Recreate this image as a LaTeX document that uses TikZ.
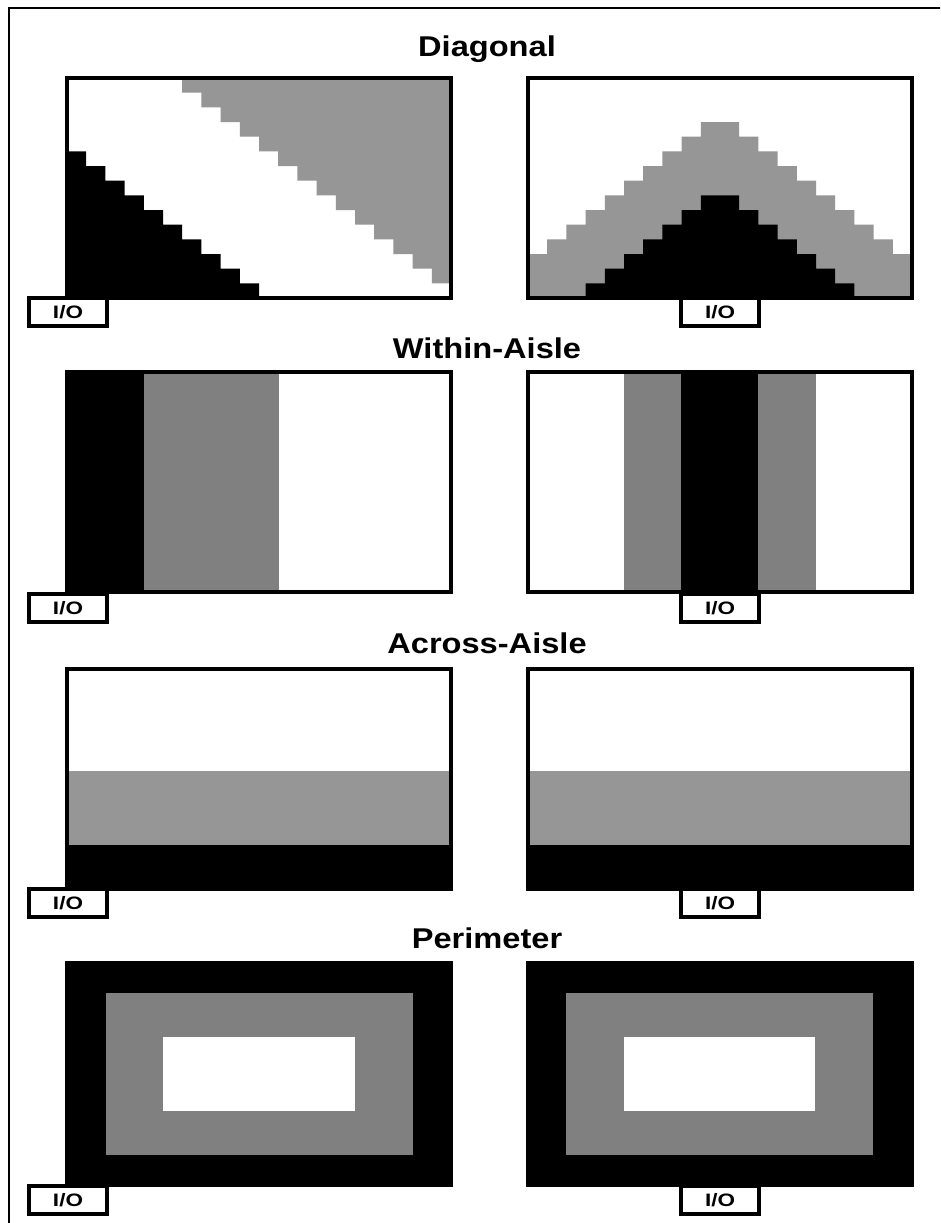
\documentclass[tikz,border=0pt]{standalone}
\usepackage{fontspec}
\setmainfont{Liberation Sans}
\newfontfamily\titlefont[FakeStretch=1.14]{Liberation Sans}
\newfontfamily\iofont[FakeStretch=1.25]{Liberation Sans}
\definecolor{lgray}{RGB}{150,150,150}
\definecolor{mgray}{RGB}{128,128,128}
\begin{document}
\begin{tikzpicture}[x=1pt,y=-1pt,
  panel/.style={draw=black,line width=4pt},
  sectiontitle/.style={anchor=base,inner sep=0pt,font=\titlefont\bfseries\fontsize{28.6}{30}\selectfont},
  iobox/.style={draw=black,line width=4pt,fill=white,minimum width=78pt,minimum height=28pt,inner sep=0pt,font=\iofont\bfseries\fontsize{18}{20}\selectfont},
  outerframe/.style={draw=black,line width=2.5pt}]
\useasboundingbox (0,0) rectangle (940,1223);
\clip (0,0) rectangle (940,1223);
\fill[white] (0,0) rectangle (940,1223);

% outer frame (cut by the page at right and bottom)
\draw[outerframe] (9.2,1240) -- (9.2,7.8) -- (960,7.8);

% ---------------- Diagonal ----------------
\node[sectiontitle] (t1) at (487,56.7) {Diagonal};
% left panel
\fill[black] (67,298) -- (67,{78+5*14.667})
  \foreach \c in {0,...,9}{ -- ({67+(\c+1)*19.2},{78+(5+\c)*14.667}) -- ({67+(\c+1)*19.2},{78+(6+\c)*14.667}) } -- cycle;
\fill[lgray] ({67+6*19.2},78)
  \foreach \c in {6,...,19}{ -- ({67+\c*19.2},{78+(\c-5)*14.667}) -- ({67+(\c+1)*19.2},{78+(\c-5)*14.667}) } -- (451,78) -- cycle;
\draw[panel] (67,78) rectangle (451,298);
% right panel
\fill[lgray] (528,298)
  \foreach \c in {0,...,19}{ -- ({528+\c*19.2},{78+(12-min(\c,19-\c))*14.667}) -- ({528+(\c+1)*19.2},{78+(12-min(\c,19-\c))*14.667}) } -- (912,298) -- cycle;
\fill[black] ({528+3*19.2},298)
  \foreach \c in {3,...,16}{ -- ({528+\c*19.2},{78+(17-min(\c,19-\c))*14.667}) -- ({528+(\c+1)*19.2},{78+(17-min(\c,19-\c))*14.667}) } -- ({528+17*19.2},298) -- cycle;
\draw[panel] (528,78) rectangle (912,298);
\node[iobox] (io1) at (68,312) {I/O};
\node[iobox] (io2) at (720,312) {I/O};

% ---------------- Within-Aisle ----------------
\node[sectiontitle] (t2) at (487,358.3) {Within-Aisle};
\fill[black] (67,372) rectangle (144,592);
\fill[mgray] (144,372) rectangle (279,592);
\draw[panel] (67,372) rectangle (451,592);
\fill[mgray] (624,372) rectangle (681,592);
\fill[black] (681,372) rectangle (758,592);
\fill[mgray] (758,372) rectangle (816,592);
\draw[panel] (528,372) rectangle (912,592);
\node[iobox] (io3) at (68,608) {I/O};
\node[iobox] (io4) at (720,608) {I/O};

% ---------------- Across-Aisle ----------------
\node[sectiontitle] (t3) at (487,653.3) {Across-Aisle};
\fill[lgray] (67,771) rectangle (451,845);
\fill[black] (67,845) rectangle (451,889);
\draw[panel] (67,669) rectangle (451,889);
\fill[lgray] (528,771) rectangle (912,845);
\fill[black] (528,845) rectangle (912,889);
\draw[panel] (528,669) rectangle (912,889);
\node[iobox] (io5) at (68,903) {I/O};
\node[iobox] (io6) at (720,903) {I/O};

% ---------------- Perimeter ----------------
\node[sectiontitle] (t4) at (487,948.3) {Perimeter};
\fill[black] (65,961) rectangle (453,1187);
\fill[mgray] (106,993) rectangle (413,1155);
\fill[white] (163,1037) rectangle (355,1111);
\fill[black] (526,961) rectangle (914,1187);
\fill[mgray] (566,993) rectangle (873,1155);
\fill[white] (624,1037) rectangle (815,1111);
\node[iobox] (io7) at (68,1200) {I/O};
\node[iobox] (io8) at (720,1200) {I/O};
\end{tikzpicture}
\end{document}
